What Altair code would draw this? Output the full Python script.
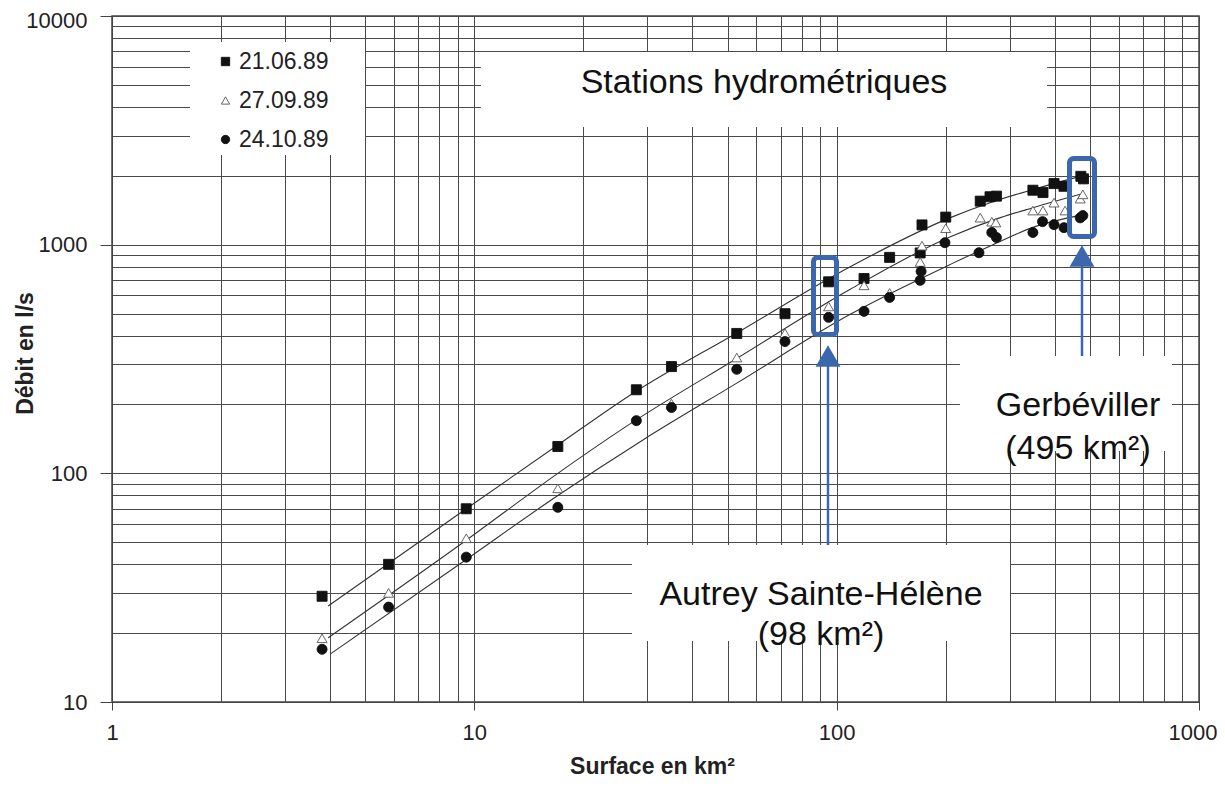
import altair as alt
import pandas as pd

FONT = "Liberation Sans"
BLUE = "#3b67ad"

series = ["21.06.89", "27.09.89", "24.10.89"]

# --- measured points (surface km², débit l/s) ---
sq_x = [3.8, 5.8, 9.5, 17, 28, 35, 53, 72, 95, 119, 140, 170, 172, 200, 249, 265, 276, 348, 371, 398, 424, 472, 480]
sq_y = [29, 40, 70, 131, 232, 293, 409, 499, 688, 711, 880, 920, 1220, 1320, 1550, 1620, 1630, 1730, 1690, 1850, 1800, 1990, 1940]

tr_x = [3.8, 5.8, 9.5, 17, 35, 53, 72, 95, 119, 140, 170, 172, 200, 249, 268, 275, 348, 371, 398, 427, 470, 478]
tr_y = [19, 30, 52, 86, 202, 321, 410, 537, 664, 615, 840, 990, 1180, 1313, 1260, 1250, 1410, 1410, 1527, 1410, 1590, 1660]

ci_x = [3.8, 5.8, 9.5, 17, 28, 35, 53, 72, 95, 119, 140, 170, 171, 199, 247, 268, 276, 348, 370, 398, 424, 470, 478]
ci_y = [17, 26, 43, 71, 170, 194, 285, 377, 481, 511, 588, 698, 764, 1020, 922, 1130, 1074, 1130, 1261, 1224, 1187, 1310, 1340]

# --- fitted curves ---
top_x = [3.95, 9.5, 17, 27.3, 53, 109, 206, 270, 347, 470]
top_y = [26.3, 70, 133, 223, 411, 801, 1313, 1540, 1740, 1990]
mid_x = [3.95, 9.5, 17, 27.3, 53, 109, 206, 283, 348, 470]
mid_y = [19.1, 51, 100, 167, 318, 638, 1084, 1313, 1450, 1660]
bot_x = [4.0, 9.5, 17, 29.2, 53, 109, 206, 270, 348, 475]
bot_y = [16.2, 42, 80, 140, 248, 496, 820, 1000, 1190, 1350]

x_ticks = [1, 2, 3, 4, 5, 6, 7, 8, 9, 10, 20, 30, 40, 50, 60, 70, 80, 90,
           100, 200, 300, 400, 500, 600, 700, 800, 900, 1000]
y_ticks = [10, 20, 30, 40, 50, 60, 70, 80, 90, 100, 200, 300, 400, 500, 600, 700, 800, 900,
           1000, 2000, 3000, 4000, 5000, 6000, 7000, 8000, 9000, 10000]

pts = pd.concat([
    pd.DataFrame({"surface": sq_x, "debit": sq_y, "serie": series[0]}),
    pd.DataFrame({"surface": tr_x, "debit": tr_y, "serie": series[1]}),
    pd.DataFrame({"surface": ci_x, "debit": ci_y, "serie": series[2]}),
], ignore_index=True)
curves = pd.concat([
    pd.DataFrame({"surface": top_x, "debit": top_y, "serie": series[0]}),
    pd.DataFrame({"surface": mid_x, "debit": mid_y, "serie": series[1]}),
    pd.DataFrame({"surface": bot_x, "debit": bot_y, "serie": series[2]}),
], ignore_index=True)

one = pd.DataFrame({"k": [0]})

xs = alt.Scale(type="log", domain=[1, 1000], nice=False)
ys = alt.Scale(type="log", domain=[10, 10000], nice=False)

x_axis = alt.Axis(
    values=x_ticks, grid=True, gridColor="#4a4a4a", gridWidth=1, gridOpacity=1,
    labelExpr="indexof([1,10,100,1000], datum.value) >= 0 ? format(datum.value, 'd') : ''",
    labelOverlap=False, labelBound=False, labelFont=FONT, labelFontSize=22, labelColor="#222",
    labelPadding=12, tickSize=8, tickColor="#444",
    tickOpacity={"condition": {"test": "indexof([1,10,100,1000], datum.value) >= 0", "value": 1}, "value": 0},
    labelAlign={"condition": {"test": "datum.value == 1000", "value": "right"}, "value": "center"},
    labelOffset={"condition": {"test": "datum.value == 1000", "value": 18}, "value": 0},
    domainColor="#444", title="Surface en km²", titleFont=FONT, titleFontSize=23,
    titleFontWeight="bold", titleColor="#222", titleX=540, titleY=64, titleBaseline="middle",
)
y_axis = alt.Axis(
    values=y_ticks, grid=True, gridColor="#4a4a4a", gridWidth=1, gridOpacity=1,
    labelExpr="indexof([10,100,1000,10000], datum.value) >= 0 ? format(datum.value, 'd') : ''",
    labelOverlap=False, labelBound=False, labelFont=FONT, labelFontSize=22, labelColor="#222",
    labelPadding=13, tickSize=12, tickColor="#444",
    tickOpacity={"condition": {"test": "indexof([10,100,1000,10000], datum.value) >= 0", "value": 1}, "value": 0},
    labelOffset={"condition": {"test": "datum.value == 10000", "value": 4}, "value": 0},
    domainColor="#444", title="Débit en l/s", titleFont=FONT, titleFontSize=23,
    titleFontWeight="bold", titleColor="#222", titleX=-87, titleY=337, titleBaseline="middle",
)

X = alt.X("surface:Q", scale=xs, axis=x_axis)
Y = alt.Y("debit:Q", scale=ys, axis=y_axis)


def box(x1, x2, y1, y2, **kw):
    return alt.Chart(one).mark_rect(**kw).encode(
        x=alt.value(x1), x2=alt.value(x2), y=alt.value(y1), y2=alt.value(y2))


def label(x, y, text, size, line_h=40):
    return alt.Chart(one).mark_text(
        text=text, font=FONT, fontSize=size, color="#111", align="center",
        baseline="middle", lineHeight=line_h,
    ).encode(x=alt.value(x), y=alt.value(y))


# white boxes (plot coordinates)
white = "#ffffff"
legend_box = box(78, 253, 26, 139, fill=white)
title_box = box(369, 935, 36, 111, fill=white)
gerb_box = box(848, 1060, 340, 435, fill=white)
autrey_box = box(520, 898, 529, 625, fill=white)

lines = alt.Chart(curves).mark_line(
    color="#333", strokeWidth=1.1, interpolate="monotone"
).encode(x=X, y=Y, detail="serie:N")

leg = alt.Legend(
    title=None, orient="none", legendX=102, legendY=34, labelFont=FONT, labelFontSize=23,
    labelColor="#222", symbolSize=70, rowPadding=15, labelOffset=2, padding=0, zindex=1,
    symbolStrokeWidth=0.9,
)
points = alt.Chart(pts).mark_point(filled=True, size=100, strokeWidth=0.9, opacity=1).encode(
    x=X, y=Y,
    shape=alt.Shape("serie:N", scale=alt.Scale(domain=series, range=["square", "triangle-up", "circle"]), legend=leg),
    fill=alt.Fill("serie:N", scale=alt.Scale(domain=series, range=["#111111", "#ffffff", "#111111"]), legend=leg),
    stroke=alt.Stroke("serie:N", scale=alt.Scale(domain=series, range=["#111111", "#555555", "#111111"]), legend=leg),
)

blue_autrey = box(701.5, 724.5, 241.5, 318.5, fill="#ffffff", fillOpacity=0, stroke=BLUE,
                  strokeWidth=5, cornerRadius=4)
blue_gerb = box(957.5, 982.5, 142.5, 220.5, fill="#ffffff", fillOpacity=0, stroke=BLUE,
                strokeWidth=5, cornerRadius=4)

arrow_autrey_line = alt.Chart(one).mark_rule(color=BLUE, strokeWidth=2.5).encode(
    x=alt.value(716), y=alt.value(529), y2=alt.value(348))
arrow_autrey_head = alt.Chart(one).mark_point(
    shape="triangle-up", filled=True, color=BLUE, size=620, opacity=1
).encode(x=alt.value(716), y=alt.value(340))
arrow_gerb_line = alt.Chart(one).mark_rule(color=BLUE, strokeWidth=2.5).encode(
    x=alt.value(970), y=alt.value(340), y2=alt.value(250))
arrow_gerb_head = alt.Chart(one).mark_point(
    shape="triangle-up", filled=True, color=BLUE, size=620, opacity=1
).encode(x=alt.value(970), y=alt.value(240))

t_title = label(652, 67, "Stations hydrométriques", 34)
t_gerb = label(966, 390, ["Gerbéviller", "(495 km²)"], 34, 43)
t_autrey = label(709, 579, ["Autrey Sainte-Hélène", "(98 km²)"], 34, 40)

chart = alt.layer(
    legend_box, title_box, gerb_box, autrey_box,
    lines, points,
    blue_autrey, blue_gerb,
    arrow_autrey_line, arrow_autrey_head, arrow_gerb_line, arrow_gerb_head,
    t_title, t_gerb, t_autrey,
).properties(
    width=1087, height=686,
    padding={"left": 104, "top": 8, "right": 18, "bottom": 78},
    autosize=alt.AutoSizeParams(type="none"),
    background="white",
).configure_view(stroke="#444", strokeWidth=1.5)

chart.save("out.html", embed_options={"renderer": "svg", "actions": False})
